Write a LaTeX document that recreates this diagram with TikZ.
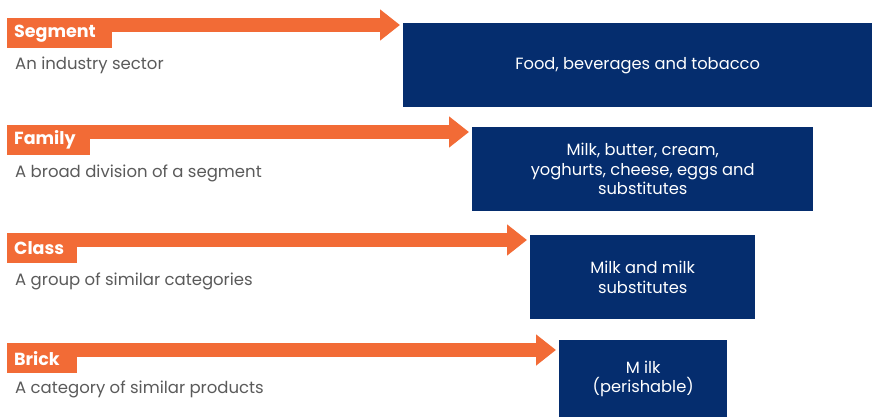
\documentclass[tikz,border=0pt]{standalone}
\usepackage{fontspec}
\setmainfont{Poppins}
\usetikzlibrary{positioning,arrows.meta,backgrounds}

\definecolor{gsorange}{HTML}{F26B36}
\definecolor{gsnavy}{HTML}{052D6E}
\definecolor{gsgray}{HTML}{5A5A5A}

\tikzset{
    tag/.style={fill=gsorange, text=white, anchor=north west, inner xsep=7pt,
        inner ysep=0pt, minimum height=30pt, text width=#1, align=left,
        font=\fontsize{17.5}{20}\selectfont\bfseries},
    descr/.style={anchor=west, text=gsgray, inner sep=0pt,
        font=\fontsize{16.5}{19}\selectfont},
    levelbox/.style={fill=gsnavy, text=white, anchor=north west, inner sep=0pt,
        align=center, font=\fontsize{16.3}{19.5}\selectfont},
    pointer/.style={gsorange, line width=14pt,
        -{Triangle[length=20pt, width=30pt]}}
}

\begin{document}
\begin{tikzpicture}[x=1pt, y=-1pt]
    \useasboundingbox (0, 0) rectangle (872, 417);

    % Segment row
    \node[tag=91pt] (seg) at (7, 18) {Segment};
    \node[descr] (segdesc) at (15, 65) {An industry sector};
    \node[levelbox, minimum width=469pt, minimum height=84pt] (segbox) at (403, 23)
        {Food, beverages and tobacco};

    % Family row
    \node[tag=69pt] (fam) at (7, 125) {Family};
    \node[descr] (famdesc) at (15, 173) {A broad division of a segment};
    \node[levelbox, minimum width=341pt, minimum height=84pt] (fambox) at (472, 127)
        {Milk, butter, cream,\\yoghurts, cheese, eggs and\\substitutes};

    % Class row
    \node[tag=56pt] (cls) at (7, 233) {Class};
    \node[descr] (clsdesc) at (15, 281) {A group of similar categories};
    \node[levelbox, minimum width=225pt, minimum height=84pt] (clsbox) at (530, 235)
        {Milk and milk\\substitutes};

    % Brick row
    \node[tag=56pt] (brk) at (7, 343) {Brick};
    \node[descr] (brkdesc) at (15, 389) {A category of similar products};
    \node[levelbox, minimum width=168pt, minimum height=77pt] (brkbox) at (559, 340)
        {M ilk\\(perishable)};

    % Arrows from the tags to the boxes, behind the tags
    \begin{scope}[on background layer]
        \foreach \t/\b in {seg/segbox, fam/fambox, cls/clsbox, brk/brkbox} {
            \coordinate (\t start) at ([yshift=-7pt]\t.north west);
            \draw[pointer] (\t start) -- ([xshift=-3pt]\t start -| \b.west);
        }
    \end{scope}
\end{tikzpicture}
\end{document}
